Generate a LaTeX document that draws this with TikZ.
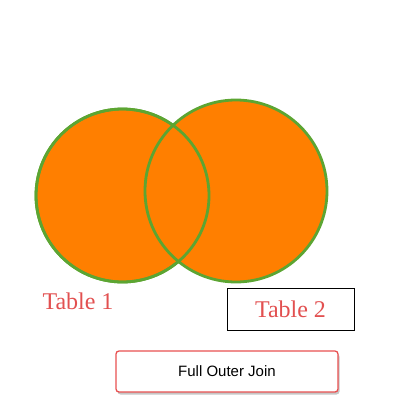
\documentclass[tikz,border=0pt]{standalone}
\usepackage{fontspec}
\setmainfont{Liberation Serif}
\newfontfamily\arialfont{Liberation Sans}
\usetikzlibrary{shadows}
\definecolor{setfill}{RGB}{255,127,0}
\definecolor{setline}{RGB}{92,165,50}
\definecolor{labelred}{RGB}{226,80,80}
\definecolor{joinred}{RGB}{232,80,80}
\begin{document}
\begin{tikzpicture}[
  x=1pt, y=-1pt,
  setcircle/.style={draw=setline, fill=setfill, line width=2.8pt},
  tablelabel/.style={text=labelred, font=\fontsize{24}{28}\selectfont},
  joinbox/.style={draw=joinred, line width=1.3pt, fill=white, rounded corners=3pt,
    minimum width=222pt, minimum height=41pt, drop shadow={shadow xshift=1.5pt, shadow yshift=-2.5pt, opacity=0.45},
    font=\arialfont\fontsize{15}{18}\selectfont}
]
\useasboundingbox (0,0) rectangle (400,400);
\node[setcircle, circle, minimum size=173pt, inner sep=0pt] (t1) at (122.5,195.5) {};
\node[setcircle, circle, minimum size=182pt, inner sep=0pt] (t2) at (236,191) {};
\draw[setline, line width=2.8pt] (t1.center) circle[radius=86.5];
\node[tablelabel] (lab1) at (78,301) {Table 1};
\node[tablelabel, draw=black, line width=0.6pt, minimum width=127pt, minimum height=42pt] (lab2) at (290.5,309) {Table 2};
\node[joinbox] (join) at (227,371.5) {Full Outer Join};
\end{tikzpicture}
\end{document}
